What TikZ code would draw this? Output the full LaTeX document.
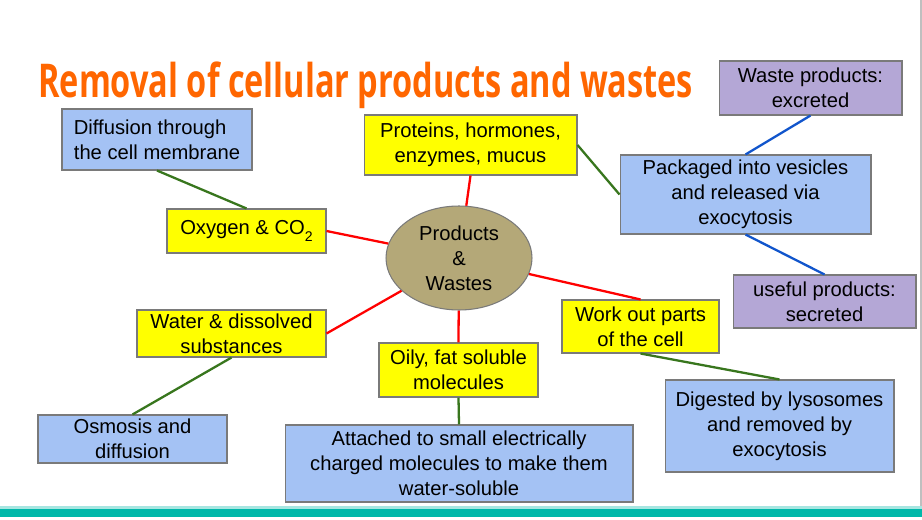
\documentclass[tikz,border=0pt]{standalone}
\usepackage{fontspec}
\setmainfont{Liberation Sans}
\newfontfamily\titlefont{Open Sans}
\usetikzlibrary{shapes.geometric}

\definecolor{boxblue}{HTML}{A4C2F4}
\definecolor{boxpurple}{HTML}{B4A7D6}
\definecolor{boxyellow}{HTML}{FFFF00}
\definecolor{boxedge}{HTML}{7A7A7A}
\definecolor{khaki}{HTML}{B4A878}
\definecolor{linkred}{HTML}{FF0000}
\definecolor{linkgreen}{HTML}{38761D}
\definecolor{linkblue}{HTML}{1155CC}
\definecolor{titleorange}{HTML}{FF6600}
\definecolor{stripteal}{HTML}{00B8AA}

\tikzset{
  box/.style={draw=boxedge, line width=0.6pt, inner sep=2pt, align=center,
    font=\fontsize{11.5}{14.2}\selectfont},
  bluebox/.style={box, fill=boxblue},
  purplebox/.style={box, fill=boxpurple},
  yellowbox/.style={box, fill=boxyellow},
  redlink/.style={draw=linkred, line width=1.3pt},
  greenlink/.style={draw=linkgreen, line width=1.3pt},
  bluelink/.style={draw=linkblue, line width=1.3pt}
}

\begin{document}
\begin{tikzpicture}[x=0.02cm, y=-0.02cm]
	\useasboundingbox [fill=white] (0,0) rectangle (922,520);
	% slide frame and footer strip
	\draw [gray!50, line width=0.6pt] (921,0) -- (921,507);
	\fill [stripteal!35] (0,506) rectangle (922,508.5);
	\fill [stripteal] (0,508.5) rectangle (922,517);
	% title
	\node (title) [anchor=base west, inner sep=0, text=titleorange] at (38,98)
		{\resizebox{13.1cm}{\height}{\titlefont\bfseries\fontsize{26.5}{30}\selectfont Removal of cellular products and wastes}};
	% centre
	\node (prod) [ellipse, draw=boxedge, line width=0.6pt, fill=khaki, minimum width=2.92cm, minimum height=2.08cm,
		align=center, inner sep=0, font=\fontsize{11.5}{14.2}\selectfont] at (459,258) {Products\\\&\\Wastes};
	% first ring
	\node (oxy) [yellowbox, minimum width=3.18cm, minimum height=0.88cm] at (246.5,231)
		{Oxygen \& CO\raisebox{-0.7ex}{\fontsize{8}{8}\selectfont 2}};
	\node (prot) [yellowbox, minimum width=4.26cm, minimum height=1.2cm] at (470.5,145) {Proteins, hormones,\\enzymes, mucus};
	\node (water) [yellowbox, minimum width=3.78cm, minimum height=0.94cm] at (231.5,333.5) {Water \& dissolved\\substances};
	\node (oily) [yellowbox, minimum width=3.18cm, minimum height=1.08cm] at (458.5,370) {Oily, fat soluble\\molecules};
	\node (work) [yellowbox, minimum width=3.14cm, minimum height=1.06cm] at (640.5,326.5) {Work out parts\\of the cell};
	% outer ring
	\node (diff) [bluebox, align=left, minimum width=3.8cm, minimum height=1.22cm] at (157,139.5) {Diffusion through\\the cell membrane};
	\node (osm) [bluebox, minimum width=3.78cm, minimum height=0.96cm] at (132.5,439) {Osmosis and\\diffusion};
	\node (att) [bluebox, minimum width=6.96cm, minimum height=1.54cm] at (459,463.5)
		{Attached to small electrically\\charged molecules to make them\\water-soluble};
	\node (dig) [bluebox, minimum width=4.58cm, minimum height=1.84cm] at (779.5,426)
		{Digested by lysosomes\\and removed by\\exocytosis};
	\node (pack) [bluebox, minimum width=5.02cm, minimum height=1.58cm] at (745.5,194.5)
		{Packaged into vesicles\\and released via\\exocytosis};
	\node (waste) [purplebox, minimum width=3.66cm, minimum height=1.08cm] at (810.5,88) {Waste products:\\excreted};
	\node (useful) [purplebox, minimum width=3.66cm, minimum height=1.06cm] at (824.5,301.5) {useful products:\\secreted};
	% connectors
	\draw [redlink] (prod) -- (oxy.east);
	\draw [redlink] (prod) -- (prot.south);
	\draw [redlink] (prod) -- (water.east);
	\draw [redlink] (prod) -- (oily.north);
	\draw [redlink] (prod) -- (work.north);
	\draw [greenlink] (oxy.north) -- (diff.south);
	\draw [greenlink] (prot.east) -- (pack.west);
	\draw [greenlink] (water.south) -- (osm.north);
	\draw [greenlink] (oily.south) -- (att.north);
	\draw [greenlink] (work.south) -- (dig.north);
	\draw [bluelink] (waste.south) -- (pack.north);
	\draw [bluelink] (pack.south) -- (useful.north);
\end{tikzpicture}
\end{document}
